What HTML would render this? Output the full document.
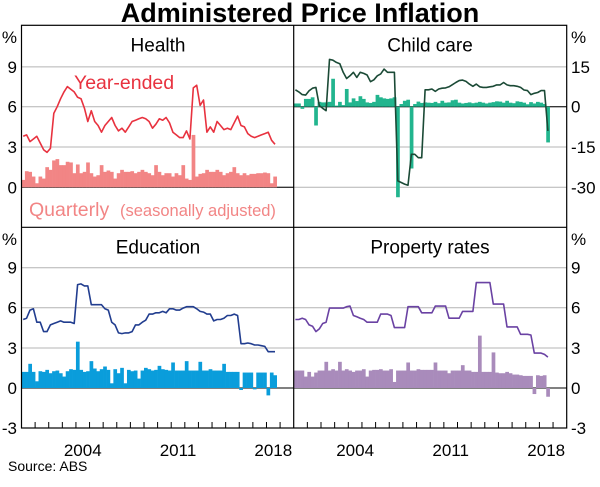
<!DOCTYPE html>
<html><head><meta charset="utf-8">
<style>
body{margin:0;background:#fff;}
svg{display:block;font-family:"Liberation Sans",Arial,sans-serif;}
</style></head>
<body>
<svg id="chart" width="600" height="487" viewBox="0 0 600 487" xmlns="http://www.w3.org/2000/svg">
<text x="300" y="22" text-anchor="middle" font-size="27" font-weight="bold">Administered Price Inflation</text>
<g id="grid"></g>
<g id="marks"></g>
<g id="frame"></g>
<g id="labels"></g>
<text x="8" y="471" font-size="14">Source:   ABS</text>
</svg>
<script>
const quarterStart = 2000;
const healthLine = [3.8,3.9,3.4,3.6,3.8,3.3,2.8,2.6,2.9,5.5,6.0,6.6,7.1,7.5,7.3,7.1,6.7,6.6,5.9,4.9,5.7,4.9,4.6,4.1,4.6,4.9,5.2,4.6,4.2,4.4,4.1,4.5,4.9,5.0,5.1,5.2,5.1,4.9,4.4,4.7,5.1,5.0,5.2,4.8,4.1,3.9,3.7,3.7,4.2,3.6,7.4,7.6,6.1,6.5,4.1,4.5,4.1,4.9,4.6,4.3,4.4,4.3,4.8,5.3,4.6,4.5,4.0,3.8,3.7,3.8,3.9,4.0,4.1,3.5,3.2];
const healthBars = [0.55,1.2,1.15,0.8,0.3,0.8,0.65,1.5,1.3,2.0,2.1,1.65,1.65,1.9,1.85,1.05,1.7,1.05,1.15,1.85,1.05,0.8,0.9,1.65,1.15,1.25,1.15,0.65,1.05,1.3,1.15,1.15,1.2,1.05,1.15,1.3,1.15,1.05,0.9,1.65,1.15,0.9,1.05,1.05,0.8,1.05,0.9,1.65,0.65,0.55,3.9,0.8,1.0,1.05,1.3,1.15,1.15,1.3,1.15,0.9,1.05,1.15,1.5,1.05,0.9,1.05,0.9,1.0,1.0,1.05,1.05,1.1,1.05,0.3,0.8];
const childLine = [6.3,5.5,4.5,4.3,5.9,6.9,7.2,0.4,-0.6,-1.5,17.6,17.3,16.5,16,12.8,10.5,11.5,12.8,10.9,12.8,12.4,11.8,9.3,10,11.5,12.2,14,12.8,12.8,12.8,-27.6,-28.2,-28.8,-29.2,-17.7,-17.7,-19,-19,6.3,6.3,6.6,5.7,6.6,6.9,7.0,7.4,8.2,9.0,9.7,9.9,9.4,8.4,7.6,8.4,7.4,7.2,7.2,7.4,7.6,8.1,8.1,9.0,8.1,7.8,7.8,7.6,7.2,6.2,6.0,4.5,5.0,5.3,6.0,6.0,-9];
const childBars = [1.2,1.2,-0.8,2.9,2.9,3.5,-7,1.8,1.6,1.6,1.8,10.4,0.4,1.8,0.6,6.6,1.6,3.1,2.1,3.9,2.9,1.6,1.4,1.8,4.4,3.5,3.1,2.9,3.1,3.5,-33.7,1.0,2.2,2.6,-23,1.0,1.9,1.4,1.6,1.5,1.4,1.8,1.3,2.2,1.5,1.6,2.4,2.6,1.5,1.2,1.4,1.6,1.3,1.5,1.8,1.5,1.2,1.5,1.7,2.0,1.9,1.5,2.2,1.5,1.3,2.0,1.8,1.5,0.9,1.7,1.2,1.8,1.5,1.0,-13.3];
const eduLine = [5.1,5.2,5.8,5.9,4.9,4.9,4.2,4.2,4.7,4.8,4.9,5.0,4.9,4.9,4.9,4.8,7.7,7.75,7.6,7.6,6.2,6.2,6.2,6.2,5.9,5.8,4.9,4.7,4.1,4.05,4.1,4.1,4.2,4.7,4.7,4.9,5.05,5.5,5.5,5.6,5.6,5.7,5.6,5.9,5.9,5.8,5.8,5.95,6.05,6.05,6.05,5.9,5.7,5.65,5.5,5.5,5.0,5.1,5.1,5.2,5.4,5.4,5.5,5.4,3.3,3.3,3.35,3.3,3.2,3.2,3.15,3.1,2.7,2.7,2.7];
const eduBars = [1.2,1.2,1.8,1.2,0.5,1.25,1.2,1.35,1.1,1.25,1.3,1.1,0.85,1.25,1.4,1.35,3.45,1.35,1.2,1.25,2.0,1.45,1.25,1.4,1.6,1.35,0.35,1.4,1.1,1.5,0.35,1.35,1.25,1.3,0.7,1.3,1.5,1.4,1.3,1.35,1.65,1.4,1.35,1.3,1.9,1.3,1.3,1.3,2.0,1.3,1.3,1.3,1.95,1.3,1.3,1.4,1.3,1.3,1.3,1.8,1.2,1.2,1.2,1.2,-0.15,1.15,1.15,1.15,-0.1,1.15,1.15,1.15,-0.55,1.15,0.95];
const propLine = [5.1,5.1,5.2,5.1,4.7,4.6,4.2,4.4,4.8,4.9,5.95,5.95,5.95,5.95,5.95,6.05,6.1,5.4,5.3,5.2,5.1,4.9,4.9,4.9,4.9,5.5,5.5,5.5,5.4,4.5,4.5,4.5,4.5,6.05,6.05,6.05,6.05,5.6,5.6,5.6,5.6,6.1,6.1,6.1,6.1,5.2,5.2,5.2,5.2,5.7,5.7,5.7,5.7,7.85,7.85,7.85,7.85,7.85,6.25,6.25,6.25,6.25,4.55,4.55,4.55,4.55,4.0,4.0,4.0,3.95,2.6,2.6,2.6,2.5,2.3];
const propBars = [1.3,1.3,1.3,0.85,1.2,0.85,1.15,1.3,1.3,1.95,1.3,1.4,1.3,1.95,1.3,1.4,1.3,1.2,1.3,1.3,1.4,0.85,1.3,1.35,1.35,1.4,1.3,1.3,1.4,0.45,1.3,1.3,1.3,1.9,1.3,1.3,1.4,1.35,1.35,1.35,1.35,1.9,1.3,1.3,1.3,1.1,1.3,1.3,1.3,1.7,1.3,1.3,1.2,1.2,3.9,1.2,1.2,1.2,2.65,1.15,1.1,1.1,1.2,1.1,1.0,1.0,0.95,0.9,0.9,0.9,-0.45,0.95,0.9,0.95,-0.65];
const leftTicksTop = ["9","6","3","0"];
const rightTicksTop = ["15","0","-15","-30"];
const ticksBottom = ["9","6","3","0","-3"];
const yearLabels = ["2004","2011","2018"];

const NS="http://www.w3.org/2000/svg";
function mk(tag, attrs, parent){const e=document.createElementNS(NS,tag);for(const k in attrs)e.setAttribute(k,attrs[k]);parent.appendChild(e);return e;}
const grid=document.getElementById('grid'), marks=document.getElementById('marks'), frame=document.getElementById('frame'), labels=document.getElementById('labels');

const L=21.5, M=293.7, R=566.7, T=25.3, MID=227.3, B=428;
const panels=[
 {name:'health',x0:L,x1:M,top:T,bot:MID,zeroY:187.3,per:13.43,line:healthLine,bars:healthBars,lc:'#e8323f',bc:'#f28585',title:'Health',tx:158},
 {name:'child-care',x0:M,x1:R,top:T,bot:MID,zeroY:106.7,per:40.3/15,line:childLine,bars:childBars,lc:'#1b4a36',bc:'#22b58e',title:'Child care',tx:430},
 {name:'education',x0:L,x1:M,top:MID,bot:B,zeroY:388,per:13.43,line:eduLine,bars:eduBars,lc:'#213d8f',bc:'#0a9ddb',title:'Education',tx:158},
 {name:'property-rates',x0:M,x1:R,top:MID,bot:B,zeroY:388,per:13.43,line:propLine,bars:propBars,lc:'#6a42a3',bc:'#a98bbb',title:'Property rates',tx:430}
];
function xOf(p,year){return p.x0+(year-2000)*(p.x1-p.x0)/20;}
function yOf(p,v){return p.zeroY-v*p.per;}

[66.9,106.7,147,187.3].forEach((gy)=>{
  const g=mk('line',{x1:L,x2:R,y1:gy,y2:gy,stroke:'#b4b4b4','stroke-width':1},grid);
  
  
});
[267.7,307.7,348].forEach((gy)=>{
  const g=mk('line',{x1:L,x2:R,y1:gy,y2:gy,stroke:'#b4b4b4','stroke-width':1},grid);
  
  
});

panels.forEach(p=>{
  const gp=mk('g',{},marks);
  
  
  const z=mk('line',{x1:p.x0,x2:p.x1,y1:p.zeroY,y2:p.zeroY,stroke:'#000','stroke-width':1},gp);
  
  
  p.bars.forEach((v,i)=>{
    const yr=quarterStart+i*0.25;
    const xa=xOf(p,yr), xb=xOf(p,yr+0.25);
    const y0=yOf(p,0), y1=yOf(p,v);
    const r=mk('rect',{x:xa,y:Math.min(y0,y1),width:xb-xa+0.3,height:Math.abs(y1-y0),fill:p.bc},gp);
    
    
  });
  const pts=p.line.map((v,i)=>xOf(p,quarterStart+i*0.25+0.125).toFixed(1)+','+yOf(p,v).toFixed(1)).join(' ');
  const pl=mk('polyline',{points:pts,fill:'none',stroke:p.lc,'stroke-width':1.6,'stroke-linejoin':'round'},gp);
  
  
  const t=mk('text',{x:p.tx,y:p.top+26,'text-anchor':'middle','font-size':19},labels);
  t.textContent=p.title;
  
  
  if(p.bot===B){
    for(let yr=2001;yr<2020;yr++){
      const x=xOf(p,yr);
      const tk=mk('line',{x1:x,x2:x,y1:B,y2:B-6,stroke:'#000','stroke-width':1},frame);
      
      
    }
    yearLabels.forEach(lab=>{
      const tx=mk('text',{x:xOf(p,+lab+0.5),y:456,'text-anchor':'middle','font-size':17},labels);
      tx.textContent=lab;
      
      
    });
  }
});

const fr=mk('rect',{x:L,y:T,width:R-L,height:B-T,fill:'none',stroke:'#000','stroke-width':1.2},frame);


const v1=mk('line',{x1:M,x2:M,y1:T,y2:B,stroke:'#000','stroke-width':1.2},frame);


const h1=mk('line',{x1:L,x2:R,y1:MID,y2:MID,stroke:'#000','stroke-width':1.2},frame);



function axisText(txt,x,y,anchor,name){
  const t=mk('text',{x:x,y:y,'text-anchor':anchor,'font-size':17},labels);
  t.textContent=txt;
  
  
}
const topYs=[66.9,106.7,147,187.3], botYs=[267.7,307.7,348,388,428];
axisText('%',17,43,'end','left-unit-top');
axisText('%',571,43,'start','right-unit-top');
axisText('%',17,245,'end','left-unit-bottom');
axisText('%',571,245,'start','right-unit-bottom');
leftTicksTop.forEach((s,i)=>axisText(s,17,topYs[i]+6,'end','left-tick-label-top'));
rightTicksTop.forEach((s,i)=>axisText(s,571,topYs[i]+6,'start','right-tick-label-top'));
ticksBottom.forEach((s,i)=>{axisText(s,17,botYs[i]+6,'end','left-tick-label-bottom');axisText(s,571,botYs[i]+6,'start','right-tick-label-bottom');});

const ye=mk('text',{x:74,y:89,'font-size':19.5,fill:'#e8323f'},labels);
ye.textContent='Year-ended';


const q=mk('text',{x:29,y:216,'font-size':19.5,fill:'#f28585'},labels);
q.textContent='Quarterly';


const sa=mk('text',{x:120,y:216,'font-size':16.5,fill:'#f28585'},labels);
sa.textContent='(seasonally adjusted)';


</script>
</body></html>
